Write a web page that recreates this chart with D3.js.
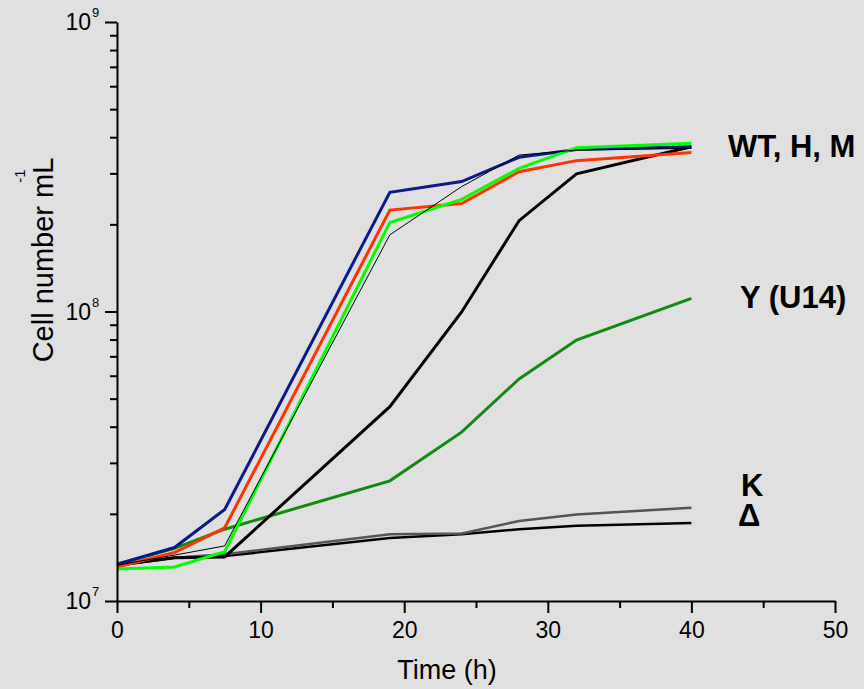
<html>
<head>
<meta charset="utf-8">
<script src="https://cdn.jsdelivr.net/npm/d3@7"></script>
<style>
  body { margin:0; background:#e0e0e0; }
  text { font-family: "Liberation Sans", Arial, sans-serif; fill:#000; }
</style>
</head>
<body>
<script>
var width = 864;
var height = 689;

// time points (h)
var hours = [0, 4, 7.5, 19, 24, 28, 32, 40];

// cell number per mL
var navyLine  = [1.34e7, 1.53e7, 2.07e7, 2.58e8, 2.81e8, 3.41e8, 3.63e8, 3.71e8];
var redLine   = [1.31e7, 1.47e7, 1.79e7, 2.24e8, 2.36e8, 3.04e8, 3.32e8, 3.54e8];
var limeLine  = [1.29e7, 1.31e7, 1.48e7, 2.03e8, 2.44e8, 3.12e8, 3.68e8, 3.81e8];
var thinBlack = [1.33e7, 1.44e7, 1.55e7, 1.84e8, 2.70e8, 3.47e8, 3.61e8, 3.66e8];
var thickBlack= [1.33e7, 1.41e7, 1.42e7, 4.69e7, 9.96e7, 2.06e8, 2.99e8, 3.71e8];
var yU14      = [1.34e7, 1.52e7, 1.77e7, 2.60e7, 3.83e7, 5.85e7, 7.97e7, 1.11e8];
var kLine     = [1.33e7, 1.41e7, 1.45e7, 1.70e7, 1.71e7, 1.89e7, 1.99e7, 2.10e7];
var deltaLine = [1.33e7, 1.41e7, 1.43e7, 1.65e7, 1.70e7, 1.77e7, 1.82e7, 1.86e7];

var xTicks = [0, 10, 20, 30, 40, 50];
var xMinor = [5, 15, 25, 35, 45];
var yTicks = [1e7, 1e8, 1e9];
var yExp   = ["7", "8", "9"];
var yMinor = [2,3,4,5,6,7,8,9].map(function(d){ return d*1e7; })
  .concat([2,3,4,5,6,7,8,9].map(function(d){ return d*1e8; }));

var labels = [
  {text:"WT, H, M", value:3.71e8, x:728, dy:10},
  {text:"Y (U14)",  value:1.11e8, x:740, dy:10},
  {text:"K",        value:2.10e7, x:741, dy:-12},
  {text:"\u0394",   value:1.86e7, x:738, dy:3}
];

var series = [
  {v:deltaLine,  color:"#000000", w:2.5},
  {v:kLine,      color:"#555555", w:2.5},
  {v:yU14,       color:"#0e8c0e", w:3},
  {v:thickBlack, color:"#000000", w:3},
  {v:redLine,    color:"#ff3300", w:3},
  {v:navyLine,   color:"#0a1a8a", w:3},
  {v:limeLine,   color:"#00ff00", w:3},
  {v:thinBlack,  color:"#000000", w:1}
];

var svg = d3.select("body").append("svg")
  .attr("width", width)
  .attr("height", height)
  .style("background", "#e0e0e0");

var x = d3.scaleLinear().domain([0, 50]).range([117, 835]);
var y = d3.scaleLog().domain([1e7, 1e9]).range([601, 22]);

var line = d3.line()
  .x(function(d, i){ return x(hours[i]); })
  .y(function(d){ return y(d); });

svg.selectAll("path.series")
  .data(series)
  .enter()
  .append("path")
  .attr("class", "series")
  .attr("fill", "none")
  .attr("stroke", function(d){ return d.color; })
  .attr("stroke-width", function(d){ return d.w; })
  .attr("stroke-linejoin", "miter")
  .attr("d", function(d){ return line(d.v); });

// x axis
var gx = svg.append("g").attr("transform", "translate(0,601)")
  .call(d3.axisBottom(x).tickValues(xTicks).tickSize(12).tickSizeOuter(0).tickPadding(6));
svg.append("g").attr("transform", "translate(0,601)")
  .call(d3.axisBottom(x).tickValues(xMinor).tickSize(7).tickFormat(""))
  .select(".domain").remove();
gx.selectAll("text").style("font-size", "23px").attr("dy", "0.71em").attr("y", 21);

// y axis
var gy = svg.append("g").attr("transform", "translate(117,0)")
  .call(d3.axisLeft(y).tickValues(yTicks).tickSize(12).tickSizeOuter(0).tickFormat(""));
svg.append("g").attr("transform", "translate(117,0)")
  .call(d3.axisLeft(y).tickValues(yMinor).tickSize(7).tickFormat(""))
  .select(".domain").remove();

svg.selectAll(".domain, .tick line").attr("stroke", "#000").attr("stroke-width", 2);

var yl = svg.selectAll("g.ylab").data(yTicks).enter().append("g")
  .attr("class", "ylab")
  .attr("transform", function(d){ return "translate(91," + y(d) + ")"; });
yl.append("text").attr("text-anchor", "end").attr("y", 8)
  .style("font-size", "23px").text("10");
yl.append("text").attr("x", 1).attr("y", -5)
  .style("font-size", "13px").text(function(d, i){ return yExp[i]; });

// axis titles
svg.append("text").attr("x", 447).attr("y", 679)
  .attr("text-anchor", "middle").style("font-size", "27px").text("Time (h)");
svg.append("text").attr("transform", "translate(53,260) rotate(-90)")
  .attr("text-anchor", "middle").style("font-size", "29px").text("Cell number mL");
svg.append("text").attr("transform", "translate(25,176) rotate(-90)")
  .attr("text-anchor", "middle").style("font-size", "15px").text("-1");

// group labels
svg.selectAll("text.glab").data(labels).enter().append("text")
  .attr("class", "glab")
  .attr("x", function(d){ return d.x; })
  .attr("y", function(d){ return y(d.value) + d.dy; })
  .style("font-size", "31px").style("font-weight", "bold")
  .text(function(d){ return d.text; });
</script>
</body>
</html>
